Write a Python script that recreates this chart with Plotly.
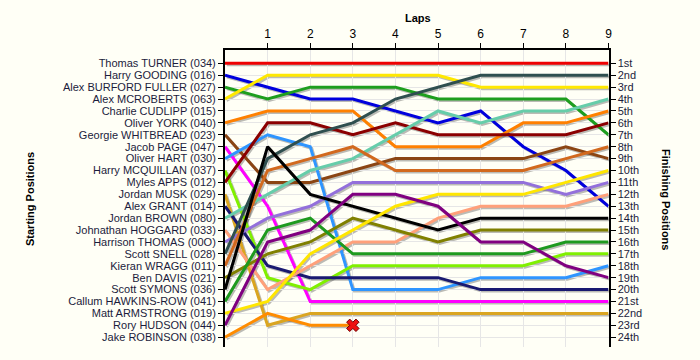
import plotly.graph_objects as go

# ---------------- data ----------------
laps = [0, 1, 2, 3, 4, 5, 6, 7, 8, 9]
lap_ticks = [1, 2, 3, 4, 5, 6, 7, 8, 9]
positions = list(range(1, 25))

starting_labels = [
    "Thomas TURNER (034)", "Harry GOODING (016)", "Alex BURFORD FULLER (027)",
    "Alex MCROBERTS (063)", "Charlie CUDLIPP (015)", "Oliver YORK (040)",
    "Georgie WHITBREAD (023)", "Jacob PAGE (047)", "Oliver HART (030)",
    "Harry MCQUILLAN (037)", "Myles APPS (012)", "Jordan MUSK (029)",
    "Alex GRANT (014)", "Jordan BROWN (080)", "Johnathan HOGGARD (033)",
    "Harrison THOMAS (00O)", "Scott SNELL (028)", "Kieran WRAGG (011)",
    "Ben DAVIS (021)", "Scott SYMONS (036)", "Callum HAWKINS-ROW (041)",
    "Matt ARMSTRONG (019)", "Rory HUDSON (044)", "Jake ROBINSON (038)",
]
finishing_labels = [
    "1st", "2nd", "3rd", "4th", "5th", "6th", "7th", "8th", "9th", "10th",
    "11th", "12th", "13th", "14th", "15th", "16th", "17th", "18th", "19th",
    "20th", "21st", "22nd", "23rd", "24th",
]

turner = [1, 1, 1, 1, 1, 1, 1, 1, 1, 1]
gooding = [2, 3, 4, 4, 5, 6, 5, 8, 10, 13]
burford_fuller = [3, 4, 3, 3, 3, 4, 4, 4, 4, 7]
mcroberts = [4, 2, 2, 2, 2, 2, 3, 3, 3, 3]
cudlipp = []
york = [6, 5, 5, 5, 8, 8, 8, 6, 6, 5]
whitbread = [7, 11, 11, 10, 9, 9, 9, 9, 8, 9]
page = [8, 13, 21, 21, 21, 21, 21, 21, 21, 21]
hart = [9, 7, 8, 20, 20, 20, 19, 19, 19, 18]
mcquillan = [10, 19, 20, 18, 18, 18, 18, 18, 17, 17]
apps = [11, 6, 6, 7, 6, 7, 7, 7, 7, 6]
musk = [12, 23, 22, 22, 22, 22, 22, 22, 22, 22]
grant = [13, 18, 19, 19, 19, 19, 20, 20, 20, 20]
brown = [14, 12, 10, 9, 7, 5, 6, 5, 5, 4]
hoggard = [15, 20, 18, 16, 16, 14, 13, 13, 13, 12]
thomas = [16, 14, 13, 11, 11, 11, 11, 11, 12, 11]
snell = [17, 9, 7, 6, 4, 3, 2, 2, 2, 2]
wragg = [18, 10, 9, 8, 10, 10, 10, 10, 9, 8]
davis = [19, 17, 16, 14, 15, 16, 15, 15, 15, 15]
symons = [20, 8, 12, 13, 14, 15, 14, 14, 14, 14]
hawkins_row = [21, 15, 14, 17, 17, 17, 17, 17, 16, 16]
armstrong = [22, 21, 17, 15, 13, 12, 12, 12, 11, 10]
hudson = [23, 16, 15, 12, 12, 13, 16, 16, 18, 19]
robinson = [24, 22, 23, 23]

series = [turner, gooding, burford_fuller, mcroberts, cudlipp, york, whitbread,
          page, hart, mcquillan, apps, musk, grant, brown, hoggard, thomas,
          snell, wragg, davis, symons, hawkins_row, armstrong, hudson, robinson]

# ---------------- style ----------------
colors = ["#EE0000", "#0000DD", "#1E9E1E", "#FFE800", "#999999", "#FF8000",
          "#8B4513", "#FF00FF", "#2E95FF", "#80F000", "#8B0000", "#DAA520",
          "#191970", "#66CDAA", "#FFA07A", "#9370DB", "#2F4F4F", "#D2691E",
          "#808000", "#000000", "#1E9A1E", "#FFE600", "#800080", "#FF8C00"]

FONT = "Liberation Sans, Arial, sans-serif"
TXT = "#1c1c3c"
BG = "#FFFFF6"
GRID = "#E6E6E6"

W_PLOT = 385.0
H_PLOT = 298.0
dx = 1.5 / W_PLOT
dy = 1.5 / H_PLOT
YR = [24.78, -0.12]

fig = go.Figure()

# shadows (same data, drawn on slightly offset invisible axes)
for vals in series:
    if not vals:
        continue
    fig.add_trace(go.Scatter(
        x=laps[:len(vals)], y=vals, mode="lines",
        line=dict(color="rgba(60,60,60,0.35)", width=3),
        xaxis="x", yaxis="y", hoverinfo="skip", showlegend=False))

# real lines
for name, vals, col in zip(starting_labels, series, colors):
    if not vals:
        continue
    fig.add_trace(go.Scatter(
        x=laps[:len(vals)], y=vals, mode="lines", name=name,
        line=dict(color=col, width=3),
        xaxis="x2", yaxis="y2", showlegend=False))

# retirement marker at the end of the unfinished line
fig.add_trace(go.Scatter(
    x=[laps[len(robinson) - 1]], y=[robinson[-1]], mode="markers",
    marker=dict(symbol="x", size=11, color="#EE1111",
                line=dict(color="#700000", width=1)),
    xaxis="x2", yaxis="y2", showlegend=False))

# dummy trace for the right-hand axis
fig.add_trace(go.Scatter(x=[laps[0]], y=[turner[0]], mode="markers",
                         marker=dict(opacity=0), xaxis="x2", yaxis="y3",
                         hoverinfo="skip", showlegend=False))

fig.update_layout(
    width=700, height=360,
    margin=dict(l=225, r=700 - 225 - W_PLOT, t=50, b=360 - 50 - H_PLOT, pad=0),
    paper_bgcolor=BG, plot_bgcolor="rgba(0,0,0,0)",
    font=dict(family=FONT, size=11, color=TXT),
    xaxis=dict(domain=[dx, 1], range=[0, 9], visible=False, anchor="y"),
    yaxis=dict(domain=[0, 1 - dy], range=YR, visible=False, anchor="x"),
    xaxis2=dict(domain=[0, 1 - dx], range=[0, 9], anchor="y2", side="top",
                tickvals=lap_ticks, ticks="outside", ticklen=5,
                tickcolor="#000", showline=True, linecolor="#000", linewidth=2,
                showgrid=True, gridcolor=GRID, gridwidth=1, zeroline=False,
                tickfont=dict(family=FONT, size=12, color="#000")),
    yaxis2=dict(domain=[dy, 1], range=YR, anchor="x2", side="left",
                tickvals=positions, ticktext=starting_labels, ticks="outside",
                ticklen=5, tickcolor="#000", showline=True, linecolor="#000",
                linewidth=2, showgrid=True, gridcolor=GRID, gridwidth=1,
                zeroline=False, tickfont=dict(family=FONT, size=11, color=TXT)),
    yaxis3=dict(overlaying="y2", side="right", anchor="x2", range=YR,
                tickvals=positions, ticktext=finishing_labels, ticks="outside",
                ticklen=5, tickcolor="#000", showline=True, linecolor="#000",
                linewidth=2, showgrid=False, zeroline=False,
                tickfont=dict(family=FONT, size=11, color=TXT)),
    annotations=[
        dict(text="<b>Laps</b>", xref="paper", yref="paper", x=0.5,
             y=1 + 32 / H_PLOT, xanchor="center", yanchor="middle",
             showarrow=False, font=dict(family=FONT, size=11, color="#000")),
        dict(text="<b>Starting Positions</b>", xref="paper", yref="paper",
             x=(30 - 225) / W_PLOT, y=0.5, textangle=-90, xanchor="center",
             yanchor="middle", showarrow=False,
             font=dict(family=FONT, size=11, color="#000")),
        dict(text="<b>Finishing Positions</b>", xref="paper", yref="paper",
             x=(666 - 225) / W_PLOT, y=0.5, textangle=90, xanchor="center",
             yanchor="middle", showarrow=False,
             font=dict(family=FONT, size=11, color="#000")),
    ],
)

fig.write_html(
    "out.html",
    config={"displayModeBar": False},
    post_script="document.body.style.margin='0';"
                "document.body.style.background='#FFFFF6';",
)
